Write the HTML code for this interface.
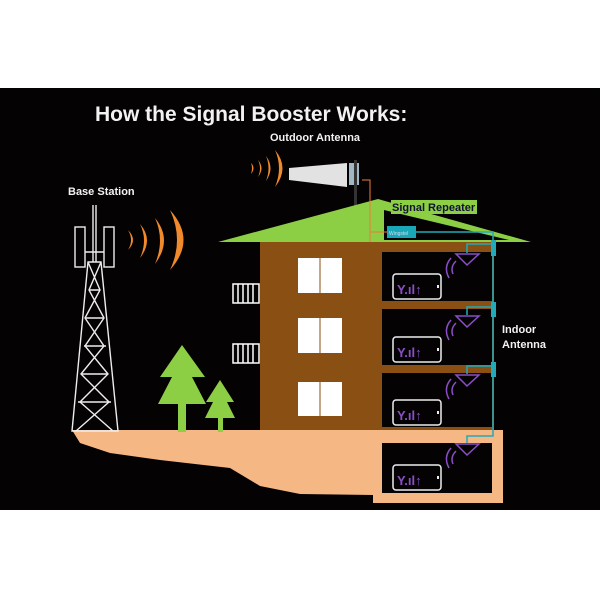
<!DOCTYPE html>
<html><head><meta charset="utf-8"><style>
html,body{margin:0;padding:0;background:#fff;}
svg{display:block;font-family:"Liberation Sans",Arial,sans-serif;}
</style></head><body>
<svg width="600" height="600" viewBox="0 0 600 600" xmlns="http://www.w3.org/2000/svg">
<rect x="0" y="0" width="600" height="600" fill="#fff"/>
<rect x="0" y="88" width="600" height="422" fill="#050203"/>
<text x="95" y="121" font-size="21" font-weight="bold" fill="#f2f2f2">How the Signal Booster Works:</text>
<text x="270" y="141" font-size="11" font-weight="bold" fill="#f2f2f2">Outdoor Antenna</text>
<text x="68" y="195" font-size="11" font-weight="bold" fill="#f2f2f2">Base Station</text>
<text x="502" y="333" font-size="11" font-weight="bold" fill="#f2f2f2">Indoor</text>
<text x="502" y="348" font-size="11" font-weight="bold" fill="#f2f2f2">Antenna</text>

<!-- ground -->
<path d="M72 430 L503 430 L503 503 L373 503 L373 495 L300 494 L260 486 L230 468 L160 460 L110 453 L80 443 Z" fill="#f5b784"/>
<rect x="382" y="443" width="110" height="50" fill="#050203"/>

<!-- tower -->
<g stroke="#eee" stroke-width="1.4" fill="none">
<line x1="93" y1="205" x2="93" y2="262"/><line x1="96" y1="205" x2="96" y2="262"/>
<rect x="75" y="227" width="10" height="40"/><rect x="104" y="227" width="10" height="40"/>
<line x1="85" y1="252" x2="104" y2="252"/>
<path d="M88 262 L101 262 L118 431 L72 431 Z"/>
<path d="M88 262 L100 290 L85 318 L104 346 L81 374 L109 402 L76 431 M101 262 L89 290 L104 318 L85 346 L108 374 L80 402 L113 431"/>
<path d="M89 290 L100 290 M86 318 L103 318 M84 346 L106 346 M81 374 L108 374 M78 402 L111 402"/>
</g>
<!-- waves -->
<g fill="#f08a2c">
<path d="M128 230 Q138 240 128 250 Q134 240 128 230Z"/>
<path d="M140 224 Q154 240 140 258 Q148 240 140 224Z"/>
<path d="M155 218 Q173 240 155 264 Q165 240 155 218Z"/>
<path d="M170 210 Q197 240 170 270 Q184 240 170 210Z"/>
<path d="M251 163 Q256 168 251 174 Q253 168 251 163Z"/>
<path d="M258 160 Q265 168 258 177 Q262 168 258 160Z"/>
<path d="M266 156 Q275 168 266 181 Q271 168 266 156Z"/>
<path d="M275 150 Q290 168 275 187 Q283 168 275 150Z"/>
</g>
<!-- outdoor antenna -->
<path d="M289 168 L347 163 L347 187 L289 180 Z" fill="#e2e2e2"/>
<rect x="349" y="163" width="10" height="22" fill="#9fb8c4"/>
<rect x="354" y="160" width="3" height="52" fill="#333"/>

<!-- roof -->
<polygon points="378,199 218,242 531,242" fill="#8ccf44"/>
<polygon points="384,210 384,240 509,240" fill="#050203"/>
<rect x="391" y="200" width="86" height="14" fill="#8ccf44"/>
<text x="392" y="211" font-size="11" font-weight="bold" fill="#113">Signal Repeater</text>
<polyline points="362,180 370,180 370,256" fill="none" stroke="#f07a3c" stroke-width="1"/>

<!-- building -->
<rect x="260" y="242" width="234" height="188" fill="#8a4f12"/>
<g fill="#050203">
<rect x="382" y="252" width="110" height="49"/>
<rect x="382" y="309" width="110" height="56"/>
<rect x="382" y="373" width="110" height="54"/>
</g>
<polyline points="370,232 387,232" fill="none" stroke="#f07a3c" stroke-width="1"/>
<rect x="387" y="226" width="29" height="12" fill="#1aa8b8"/>
<text x="389" y="235" font-size="5" fill="#cde">Wingstel</text>
<g fill="#fff">
<rect x="298" y="258" width="44" height="35"/><rect x="298" y="318" width="44" height="35"/><rect x="298" y="382" width="44" height="34"/>
</g>
<g stroke="#8a4f12" stroke-width="1"><line x1="320" y1="258" x2="320" y2="293"/><line x1="320" y1="318" x2="320" y2="353"/><line x1="320" y1="382" x2="320" y2="416"/></g>
<g fill="none" stroke="#fff" stroke-width="1.5">
<rect x="233" y="284" width="26" height="19"/><rect x="233" y="344" width="26" height="19"/>
<path d="M238 284V303M243 284V303M248 284V303M253 284V303M238 344V363M243 344V363M248 344V363M253 344V363"/>
</g>

<!-- cables -->
<g stroke="#22aab8" fill="none" stroke-width="1.5">
<polyline points="416,232 493,232 493,436 467,436 467,443"/>
<polyline points="493,244 467,244 467,253"/><polyline points="493,307 467,307 467,315"/><polyline points="493,366 467,366 467,374"/>
</g>
<g fill="#22aab8"><rect x="491" y="240" width="5" height="16"/><rect x="491" y="302" width="5" height="15"/><rect x="491" y="362" width="5" height="15"/></g>

<!-- phones -->
<g fill="none" stroke="#eee" stroke-width="1.5">
<rect x="393" y="274" width="48" height="25" rx="3"/><rect x="393" y="337" width="48" height="25" rx="3"/><rect x="393" y="400" width="48" height="25" rx="3"/><rect x="393" y="465" width="48" height="25" rx="3"/>
</g>
<g fill="#8a4fc8" font-size="13" font-weight="bold">
<text x="397" y="294">Y.ıl↑</text><text x="397" y="357">Y.ıl↑</text><text x="397" y="420">Y.ıl↑</text><text x="397" y="485">Y.ıl↑</text>
</g>
<g fill="#eee"><rect x="437" y="285" width="2" height="3"/><rect x="437" y="348" width="2" height="3"/><rect x="437" y="411" width="2" height="3"/><rect x="437" y="476" width="2" height="3"/></g>
<!-- indoor antennas -->
<g fill="none" stroke="#8a4fc8" stroke-width="1.5">
<path d="M456 254 L479 254 L467 265 Z"/><path d="M456 316 L479 316 L467 327 Z"/><path d="M456 375 L479 375 L467 386 Z"/><path d="M456 444 L479 444 L467 455 Z"/>
<path d="M456 261 Q450 267 453 274 M451 258 Q443 267 449 278"/>
<path d="M456 323 Q450 329 453 336 M451 320 Q443 329 449 340"/>
<path d="M456 382 Q450 388 453 395 M451 379 Q443 388 449 399"/>
<path d="M456 451 Q450 457 453 464 M451 448 Q443 457 449 468"/>
</g>

<!-- trees -->
<g fill="#8ccf44">
<polygon points="182,345 160,377 172,377 158,404 206,404 192,377 205,377"/>
<rect x="178" y="400" width="8" height="32"/>
<polygon points="220,380 206,402 213,402 205,418 235,418 227,402 234,402"/>
<rect x="218" y="416" width="5" height="16"/>
</g>
</svg>
</body></html>
